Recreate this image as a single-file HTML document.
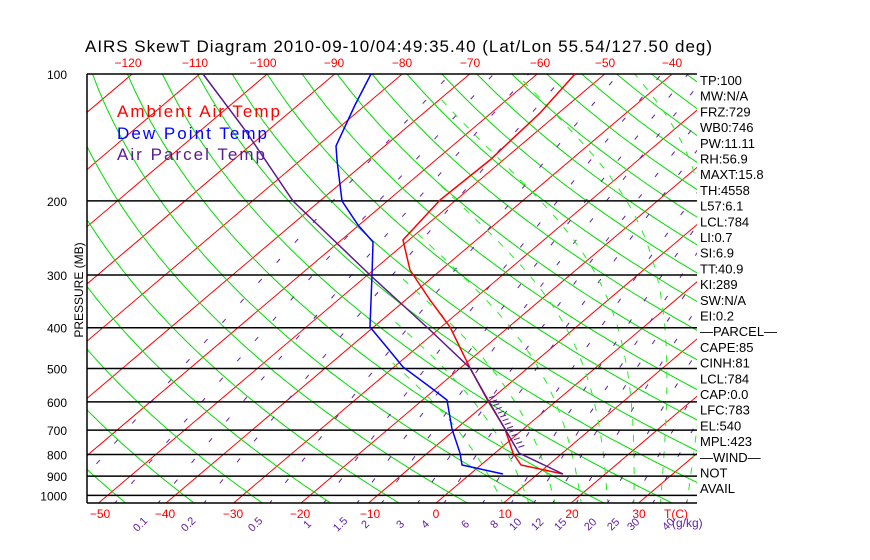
<!DOCTYPE html>
<html><head><meta charset="utf-8"><style>
html,body{margin:0;padding:0;background:#fff;width:870px;height:560px;overflow:hidden}
svg{display:block;font-family:"Liberation Sans",sans-serif}
</style></head><body>
<svg id="s" width="870" height="560" xmlns="http://www.w3.org/2000/svg">
<defs><clipPath id="c"><rect x="87" y="74" width="610" height="429"/></clipPath>
<clipPath id="cm"><polygon points="440,74 697,74 697,503 360,503"/></clipPath></defs>
<g id="grid" clip-path="url(#c)"></g>
<g id="mg" clip-path="url(#cm)"></g>
<g id="fg"></g>
</svg>
<script>
var NS="http://www.w3.org/2000/svg";
function Y(p){return 74+183*Math.log(p/100);}
function X(T,p){return 436+6.75*T+1.18*(503-Y(p));}
function el(par,tag,a,txt){var e=document.createElementNS(NS,tag);for(var k in a)e.setAttribute(k,a[k]);if(txt!=null)e.textContent=txt;document.getElementById(par).appendChild(e);return e;}
function poly(par,pts,col,w,dash){var d=pts.map(function(q){return q[0].toFixed(1)+","+q[1].toFixed(1)}).join(" ");var a={points:d,fill:"none",stroke:col,"stroke-width":w};if(dash)a["stroke-dasharray"]=dash;el(par,"polyline",a);}
for(var T=-160;T<=50;T+=10){poly("grid",[[X(T,1050),Y(1050)],[X(T,100),Y(100)]],"#ff0000",1);}
for(var th=184.5;th<=520;th+=10){var pts=[];for(var p=1050;p>=100;p-=10){var t=th*Math.pow(p/1000,0.286)-273.15;pts.push([X(t,p),Y(p)]);}poly("grid",pts,"#00dd00",1);}
function esat(T){return 6.112*Math.exp(17.67*T/(T+243.5));}
function tdew(e){var l=Math.log(e/6.112);return 243.5*l/(17.67-l);}
[0.1,0.2,0.5,1,1.5,2,3,4,6,8,10,12,15,20,25,30,40,0.05,0.02].forEach(function(w){var pts=[];for(var p=1050;p>=100;p-=10){var e=w*p/(622+w);pts.push([X(tdew(e),p),Y(p)]);}poly("grid",pts,"#6020a0",1,"5,22");});
function moist(T0){var T=T0+273.15;var Rd=287,cp=1005,L=2.5e6,eps=0.622;
 var up=[],dn=[];
 [[-5,up],[5,dn]].forEach(function(o){var t=T,pp=1000;while(pp>=100&&pp<=1060){o[1].push([X(t-273.15,pp),Y(pp)]);var es=esat(t-273.15),rs=eps*es/(pp-es);var dTdp=(Rd*t+L*rs)/(pp*(cp+L*L*rs*eps/(Rd*t*t)));t+=dTdp*o[0];pp+=o[0];}});
 return dn.reverse().concat(up);}
[8,12,16,20,24,28,32,36,40].forEach(function(t0){poly("mg",moist(t0),"#22ee22",1,"7,9");});
[100,200,300,400,500,600,700,800,900,1000].forEach(function(p){el("fg","line",{x1:87,x2:697,y1:Y(p),y2:Y(p),stroke:"#000","stroke-width":1.5});el("fg","text",{x:67,y:Y(p)+5,"text-anchor":"end","font-size":12},p);});
el("fg","line",{x1:87,x2:697,y1:503,y2:503,stroke:"#000","stroke-width":1.5});
el("fg","line",{x1:87,x2:87,y1:74,y2:503,stroke:"#000","stroke-width":1.5});
poly("fg",[[575,74],[540,113],[490,160],[440,200],[403,240],[410,270],[430,300],[450,327],[470,368],[488,401],[505,429],[513,453],[521,465],[563,474]],"#ff0000",1.5);
poly("fg",[[371,74],[355,105],[336,146],[337,160],[342,201],[358,225],[373,242],[372,275],[370,327],[385,345],[403,367],[430,387],[447,400],[452,429],[460,453],[462,465],[503,474]],"#0000ff",1.5);
poly("fg",[[203,74],[245,130],[293,201],[370,275],[430,330],[470,368],[488,400],[505,429],[519,453],[563,474]],"#5a1a90",1.5);
for(var i=0;i<14;i++){var y=398+i*3.8;var x1=478+(y-380)*0.6,x2=x1+6;el("fg","line",{x1:x1,y1:y,x2:x2,y2:y-2,stroke:"#5a1a90","stroke-width":1});}
[-120,-110,-100,-90,-80,-70,-60,-50,-40].forEach(function(t,i){el("fg","text",{x:[128,195,263,334,402,470,540,605,672][i],y:67,"text-anchor":"middle","font-size":12,fill:"#ff0000"},String(t).replace("-","\u2212"));});
[-50,-40,-30,-20,-10,0,10,20,30].forEach(function(t,i){el("fg","text",{x:[100,165,233,300,370,436,505,572,639][i],y:518,"text-anchor":"middle","font-size":12,fill:"#ff0000"},String(t).replace("-","\u2212"));});
el("fg","text",{x:664,y:518,"font-size":12,fill:"#ff0000"},"T(C)");
var ml=[["0.1",140],["0.2",188],["0.5",255],["1",307],["1.5",340],["2",365],["3",400],["4",425],["6",465],["8",494],["10",515],["12",537],["15",560],["20",590],["25",613],["30",633],["40",668]];
ml.forEach(function(m){el("fg","text",{x:m[1],y:528,"text-anchor":"middle","font-size":11,fill:"#6020a0",transform:"rotate(-45 "+m[1]+" 524)"},m[0]);});
el("fg","text",{x:672,y:527,"font-size":12,fill:"#6020a0"},"(g/kg)");
el("fg","text",{x:85,y:52,"font-size":17,textLength:627,lengthAdjust:"spacing"},"AIRS SkewT Diagram 2010-09-10/04:49:35.40 (Lat/Lon 55.54/127.50 deg)");
el("fg","text",{x:83,y:290,"font-size":12,"text-anchor":"middle",transform:"rotate(-90 83 290)"},"PRESSURE (MB)");
el("fg","text",{x:117,y:117,"font-size":17,fill:"#ff0000",textLength:163,lengthAdjust:"spacing"},"Ambient Air Temp");
el("fg","text",{x:117,y:139,"font-size":17,fill:"#0000ff",textLength:150,lengthAdjust:"spacing"},"Dew Point Temp");
el("fg","text",{x:117,y:160,"font-size":17,fill:"#5a1a90",textLength:148,lengthAdjust:"spacing"},"Air Parcel Temp");
var R=["TP:100","MW:N/A","FRZ:729","WB0:746","PW:11.11","RH:56.9","MAXT:15.8","TH:4558","L57:6.1","LCL:784","LI:0.7","SI:6.9","TT:40.9","KI:289","SW:N/A","EI:0.2","\u2014PARCEL\u2014","CAPE:85","CINH:81","LCL:784","CAP:0.0","LFC:783","EL:540","MPL:423","\u2014WIND\u2014","NOT","AVAIL"];
R.forEach(function(s,i){el("fg","text",{x:700,y:85+i*15.7,"font-size":13},s);});
</script>
</body></html>
